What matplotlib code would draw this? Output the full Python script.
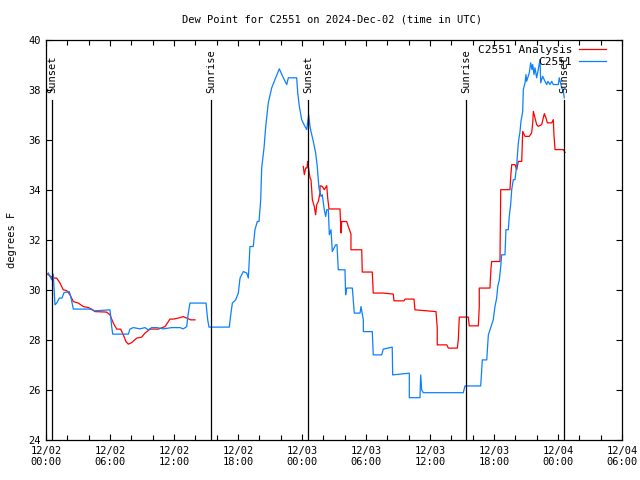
import matplotlib
matplotlib.use("Agg")
import matplotlib.pyplot as plt
from matplotlib.ticker import MultipleLocator

# ---- data (hours since 2024-12-02 00:00 UTC, degrees F) ----
obs_hours = [0.22, 0.53, 0.68, 0.84, 1.00, 1.25, 1.50, 1.69, 2.18, 2.32, 2.56, 4.12, 4.59, 6.00, 6.16, 6.25,
             7.72, 7.87, 8.18, 8.81, 9.28, 9.59, 9.91, 10.38, 11.00, 11.78, 12.56, 12.87, 13.19, 13.34, 13.50,
             15.00, 15.16, 15.28, 17.18, 17.32, 17.47, 17.78, 18.03, 18.19, 18.50, 18.82, 18.97, 19.12, 19.43,
             19.59, 19.81, 19.97, 20.13, 20.22, 20.44, 20.60, 20.84, 21.16, 21.47, 21.87, 22.25, 22.57, 22.72,
             23.50, 23.60, 23.75, 23.97, 24.19, 24.44, 24.63, 24.75, 24.84, 25.06, 25.28, 25.43, 25.59, 25.78,
             25.90, 26.09, 26.22, 26.32, 26.47, 26.56, 26.72, 26.84, 27.16, 27.28, 27.40, 28.03, 28.09, 28.19,
             28.72, 28.90, 29.44, 29.53, 29.75, 29.75, 30.59, 30.68, 31.47, 31.62, 32.46, 32.50, 34.06, 34.06,
             35.06, 35.13, 35.22, 35.37, 39.12, 39.28, 40.75, 40.85, 40.90, 41.32, 41.47, 41.62, 41.93, 42.09,
             42.25, 42.35, 42.50, 42.63, 42.72, 43.03, 43.12, 43.34, 43.43, 43.56, 43.66, 43.81, 43.97, 44.13,
             44.28, 44.44, 44.53, 44.69, 44.75, 44.91, 45.00, 45.06, 45.31, 45.44, 45.56, 45.63, 45.75, 45.84,
             46.00, 46.15, 46.31, 46.38, 46.56, 46.78, 46.94, 47.06, 47.25, 47.41, 47.56, 48.03, 48.12, 48.35,
             48.50, 48.59]
obs_vals = [30.67, 30.40, 30.63, 29.40, 29.47, 29.67, 29.67, 29.89, 29.93, 29.73, 29.23, 29.23, 29.16, 29.20,
            28.53, 28.23, 28.23, 28.43, 28.49, 28.44, 28.49, 28.40, 28.49, 28.49, 28.44, 28.49, 28.49, 28.44,
            28.53, 29.07, 29.47, 29.47, 28.80, 28.51, 28.51, 29.00, 29.47, 29.60, 29.87, 30.47, 30.73, 30.67,
            30.47, 31.73, 31.73, 32.40, 32.73, 32.73, 33.60, 34.87, 35.67, 36.53, 37.47, 38.07, 38.40, 38.83,
            38.47, 38.20, 38.47, 38.47, 37.87, 37.33, 36.80, 36.60, 36.40, 37.00, 36.53, 36.33, 35.93, 35.47,
            34.93, 34.07, 33.73, 33.80, 33.20, 32.93, 33.20, 33.20, 32.20, 32.40, 31.53, 31.80, 31.80, 30.80,
            30.80, 29.80, 30.07, 30.07, 29.07, 29.07, 29.33, 28.80, 28.33, 28.33, 27.40, 27.40, 27.63, 27.71,
            26.60, 26.67, 25.69, 25.69, 26.60, 26.00, 25.89, 25.89, 26.16, 26.16, 26.80, 27.20, 27.20, 28.20,
            28.40, 28.80, 29.33, 29.67, 30.13, 30.40, 30.93, 31.40, 31.40, 32.40, 32.40, 32.93, 33.40, 34.00,
            34.40, 34.40, 35.00, 35.87, 36.33, 36.73, 37.13, 38.00, 38.27, 38.60, 38.33, 38.67, 39.07, 38.80,
            39.00, 38.60, 38.87, 38.47, 38.80, 39.20, 38.27, 38.53, 38.33, 38.20, 38.33, 38.20, 38.33, 38.20,
            38.20, 38.47, 38.07, 37.93, 37.67]

ana1_hours = [0.09, 0.68, 1.00, 1.31, 1.62, 1.94, 2.25, 2.56, 3.03, 3.50, 3.97, 4.28, 4.59, 5.69, 6.00, 6.31,
              6.63, 7.00, 7.25, 7.50, 7.72, 8.03, 8.50, 8.97, 9.28, 9.75, 10.53, 11.16, 11.62, 11.93, 12.40,
              12.87, 13.19, 13.56, 13.97]
ana1_vals = [30.64, 30.47, 30.47, 30.27, 30.00, 29.97, 29.80, 29.53, 29.47, 29.33, 29.29, 29.23, 29.13, 29.11,
             29.00, 28.67, 28.43, 28.43, 28.20, 27.93, 27.83, 27.89, 28.07, 28.11, 28.27, 28.43, 28.43, 28.53,
             28.83, 28.83, 28.87, 28.93, 28.87, 28.80, 28.80]

ana2_hours = [24.12, 24.22, 24.35, 24.47, 24.53, 24.66, 24.75, 24.84, 24.91, 24.97, 25.15, 25.28, 25.38, 25.53,
              25.69, 25.69, 25.90, 26.09, 26.32, 26.41, 26.53, 27.56, 27.66, 27.72, 28.19, 28.34, 28.59, 28.59,
              29.60, 29.65, 30.59, 30.68, 31.62, 32.56, 32.62, 33.56, 33.66, 34.50, 34.59, 36.56, 36.68, 36.68,
              37.57, 37.72, 38.56, 38.65, 38.75, 39.59, 39.68, 40.53, 40.62, 40.62, 41.62, 41.72, 41.78, 42.56,
              42.63, 43.50, 43.56, 43.66, 43.97, 44.13, 44.28, 44.60, 44.69, 44.91, 45.31, 45.53, 45.63, 45.69,
              45.84, 46.00, 46.15, 46.47, 46.62, 46.72, 46.87, 47.00, 47.41, 47.56, 47.62, 47.72, 48.50, 48.66]
ana2_vals = [34.93, 34.60, 34.87, 34.87, 35.13, 34.73, 34.47, 34.40, 34.00, 33.60, 33.33, 33.00, 33.40, 33.53,
             33.87, 34.16, 34.13, 34.00, 34.16, 33.67, 33.23, 33.23, 32.27, 32.73, 32.73, 32.53, 32.23, 31.60,
             31.60, 30.71, 30.71, 29.87, 29.87, 29.83, 29.56, 29.56, 29.63, 29.63, 29.20, 29.13, 28.47, 27.80,
             27.80, 27.67, 27.67, 28.00, 28.91, 28.91, 28.56, 28.56, 29.33, 30.07, 30.07, 30.87, 31.13, 31.13,
             34.00, 34.00, 34.47, 35.00, 35.00, 34.80, 35.13, 35.13, 36.33, 36.13, 36.13, 36.27, 36.67, 37.13,
             36.87, 36.60, 36.53, 36.60, 36.87, 37.04, 36.87, 36.67, 36.67, 36.80, 36.20, 35.60, 35.60, 35.49]

sun_hours = [0.56, 15.47, 24.56, 39.37, 48.56]
sun_labels = ["Sunset", "Sunrise", "Sunset", "Sunrise", "Sunset"]
sun_line_top = 37.6

xtick_hours = [0, 6, 12, 18, 24, 30, 36, 42, 48, 54]
xtick_labels = ["12/02\n00:00", "12/02\n06:00", "12/02\n12:00", "12/02\n18:00", "12/03\n00:00",
                "12/03\n06:00", "12/03\n12:00", "12/03\n18:00", "12/04\n00:00", "12/04\n06:00"]
yticks = [24, 26, 28, 30, 32, 34, 36, 38, 40]

plt.rcParams['font.family'] = ['DejaVu Sans Mono']
fs = 7.5

fig = plt.figure(figsize=(6.4, 4.8), dpi=100)
ax = fig.add_axes([46 / 640, 1 - 440 / 480, 576 / 640, 400.5 / 480])

red = '#ff0000'
blue = '#0a80ff'
ax.plot(ana1_hours, ana1_vals, color=red, lw=0.9, label='C2551 Analysis')
ax.plot(ana2_hours, ana2_vals, color=red, lw=0.9)
ax.plot(obs_hours, obs_vals, color=blue, lw=0.9, label='C2551')

for h, lab in zip(sun_hours, sun_labels):
    ax.plot([h, h], [24, sun_line_top], color='black', lw=0.9)
    ax.text(h, sun_line_top + 0.25, lab, rotation=90, ha='center', va='bottom', fontsize=fs)

ax.set_xlim(0, 54)
ax.set_ylim(24, 40)
ax.set_xticks(xtick_hours)
ax.set_xticklabels(xtick_labels, fontsize=fs)
ax.xaxis.set_minor_locator(MultipleLocator(2))
ax.set_yticks(yticks)
ax.set_yticklabels([str(v) for v in yticks], fontsize=fs)
ax.tick_params(which='both', direction='in', top=True, right=True, width=0.8)
ax.tick_params(which='major', length=4.5, pad=4)
ax.tick_params(which='minor', length=3.5)
for s in ax.spines.values():
    s.set_linewidth(0.9)

ax.set_ylabel('degrees F', fontsize=fs, labelpad=8)
fig.text(332 / 640, 1 - 19 / 480, 'Dew Point for C2551 on 2024-Dec-02 (time in UTC)',
         ha='center', va='center', fontsize=fs)

leg = ax.legend(loc='upper right', frameon=False, fontsize=fs + 0.5, handlelength=2.5,
                markerfirst=False, borderaxespad=0.2, borderpad=0.3, handletextpad=0.6,
                labelspacing=0.15)
leg.set_bbox_to_anchor((1 - 10 / 576, 1.0), transform=ax.transAxes)
for t in leg.get_texts():
    t.set_ha('right')

fig.savefig('out.png', dpi=100)
